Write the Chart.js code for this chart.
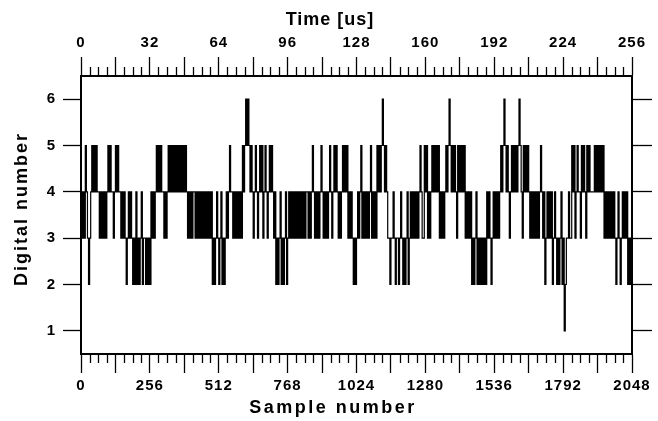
<!DOCTYPE html>
<html>
<head>
<meta charset="utf-8">
<script src="https://cdn.jsdelivr.net/npm/chart.js@4.4.1/dist/chart.umd.min.js"></script>
<style>
  html, body { margin: 0; padding: 0; background: #fff; }
  #wrap { position: relative; width: 658px; height: 421px; }
</style>
</head>
<body>
<div id="wrap"><canvas id="adcTrace"></canvas></div>
<script>
// ADC output level, one digit per 4-sample step, written run by run
const samplesPerStep = 4;
const digitalRuns = [
  "4343543234", "545454", "434343434", "5454434545", "44", "34343234343",
  "23242323423", "323232434", "3454545443434", "54545454545454545",
  "434343443434343434343434", "2323432342323", "434544", "343434343",
  "54565654", "54345434545345434", "545434", "23234232342343", "434343434",
  "3434344343454343434543434345434", "54543434545453434", "323234",
  "34534343434534343", "545456545", "43323343233234323234234", "34343434543",
  "354534345454545343434", "545654545435454545", "343434", "23234232323232",
  "4343234343434", "545654543454545456543", "5454543434343434", "54342",
  "3434342343", "232342312", "33433", "545345443545435454444545454545",
  "34343434343", "23432343", "4342323"
];

const sampleLabels = [0, 256, 512, 768, 1024, 1280, 1536, 1792, 2048];
const timeLabels = [0, 32, 64, 96, 128, 160, 192, 224, 256];
const levelTicks = [1, 2, 3, 4, 5, 6];

const levels = digitalRuns.join("").split("").map(Number);
const points = levels.map((v, i) => ({ x: i * samplesPerStep, y: v }));
points.push({ x: 2048, y: levels[levels.length - 1] });

const fontFamily = "'Liberation Sans', Arial, sans-serif";
const tickFont = { size: 15, weight: "bold" };

Chart.defaults.font.family = fontFamily;
Chart.defaults.color = "#000";

// axis captions: x, y, rotation, letter spacing
const captions = [
  { text: "Time [us]", x: 330, y: 20, rot: 0, gap: "1px" },
  { text: "Sample number", x: 333, y: 408, rot: 0, gap: "2.5px" },
  { text: "Digital number", x: 22, y: 209, rot: -Math.PI / 2, gap: "2px" },
];

// short ticks between the labelled ones, plus the axis captions
const axisExtras = {
  id: "axisExtras",
  beforeDraw(chart) {
    chart.ctx.letterSpacing = "1px";
  },
  afterDraw(chart) {
    const { ctx, chartArea, scales } = chart;
    ctx.save();
    ctx.strokeStyle = "#000";
    ctx.lineWidth = 1.3;
    ctx.beginPath();
    for (let s = 0; s <= 2048; s += 32) {
      if (s % 128 === 0) continue;
      const px = Math.round(scales.x.getPixelForValue(s)) + 0.5;
      ctx.moveTo(px, chartArea.bottom);
      ctx.lineTo(px, chartArea.bottom + 9);
    }
    for (let t = 0; t <= 256; t += 4) {
      if (t % 16 === 0) continue;
      const px = Math.round(scales.x2.getPixelForValue(t)) + 0.5;
      ctx.moveTo(px, chartArea.top);
      ctx.lineTo(px, chartArea.top - 9);
    }
    ctx.stroke();

    ctx.fillStyle = "#000";
    ctx.font = "bold 18px " + fontFamily;
    ctx.textAlign = "center";
    ctx.textBaseline = "middle";
    captions.forEach((c) => {
      ctx.save();
      ctx.letterSpacing = c.gap;
      ctx.translate(c.x, c.y);
      ctx.rotate(c.rot);
      ctx.fillText(c.text, 0, 0);
      ctx.restore();
    });
    ctx.restore();
  }
};

const ctx = document.getElementById("adcTrace").getContext("2d");
new Chart(ctx, {
  type: "line",
  data: {
    datasets: [
      {
        data: points,
        borderColor: "#000",
        borderWidth: 1.2,
        pointRadius: 0,
        stepped: true,
        fill: false,
      },
    ],
  },
  options: {
    responsive: true,
    maintainAspectRatio: false,
    animation: false,
    parsing: false,
    layout: { padding: 0 },
    plugins: {
      legend: { display: false },
      tooltip: { enabled: false },
    },
    scales: {
      x: {
        type: "linear",
        position: "bottom",
        min: 0,
        max: 2048,
        afterFit: (s) => { s.height = 67; },
        afterBuildTicks: (s) => {
          s.ticks = [];
          for (let v = 0; v <= 2048; v += 128) s.ticks.push({ value: v });
        },
        grid: { drawOnChartArea: false, tickLength: 19, tickWidth: 1.3, tickColor: "#000" },
        border: { display: true, color: "#000", width: 2 },
        ticks: {
          autoSkip: false,
          maxRotation: 0,
          padding: 4,
          font: tickFont,
          callback: (v) => (sampleLabels.includes(v) ? v : ""),
        },
      },
      x2: {
        type: "linear",
        position: "top",
        min: 0,
        max: 256,
        afterFit: (s) => { s.height = 76; },
        afterBuildTicks: (s) => {
          s.ticks = [];
          for (let v = 0; v <= 256; v += 16) s.ticks.push({ value: v });
        },
        grid: { drawOnChartArea: false, tickLength: 19, tickWidth: 1.3, tickColor: "#000" },
        border: { display: true, color: "#000", width: 2 },
        ticks: {
          autoSkip: false,
          maxRotation: 0,
          padding: 5,
          font: tickFont,
          callback: (v) => (timeLabels.includes(v) ? v : ""),
        },
      },
      y: {
        type: "linear",
        position: "left",
        min: 0.5,
        max: 6.5,
        afterFit: (s) => { s.width = 81; },
        afterBuildTicks: (s) => { s.ticks = levelTicks.map((v) => ({ value: v })); },
        grid: { drawOnChartArea: false, tickLength: 18, tickWidth: 1.3, tickColor: "#000" },
        border: { display: true, color: "#000", width: 2 },
        ticks: { padding: 7, font: tickFont },
      },
      y2: {
        type: "linear",
        position: "right",
        min: 0.5,
        max: 6.5,
        afterFit: (s) => { s.width = 26; },
        afterBuildTicks: (s) => { s.ticks = levelTicks.map((v) => ({ value: v })); },
        grid: { drawOnChartArea: false, tickLength: 20, tickWidth: 1.3, tickColor: "#000" },
        border: { display: true, color: "#000", width: 2 },
        ticks: { font: tickFont, callback: () => "" },
      },
    },
  },
  plugins: [axisExtras],
});
</script>
</body>
</html>
